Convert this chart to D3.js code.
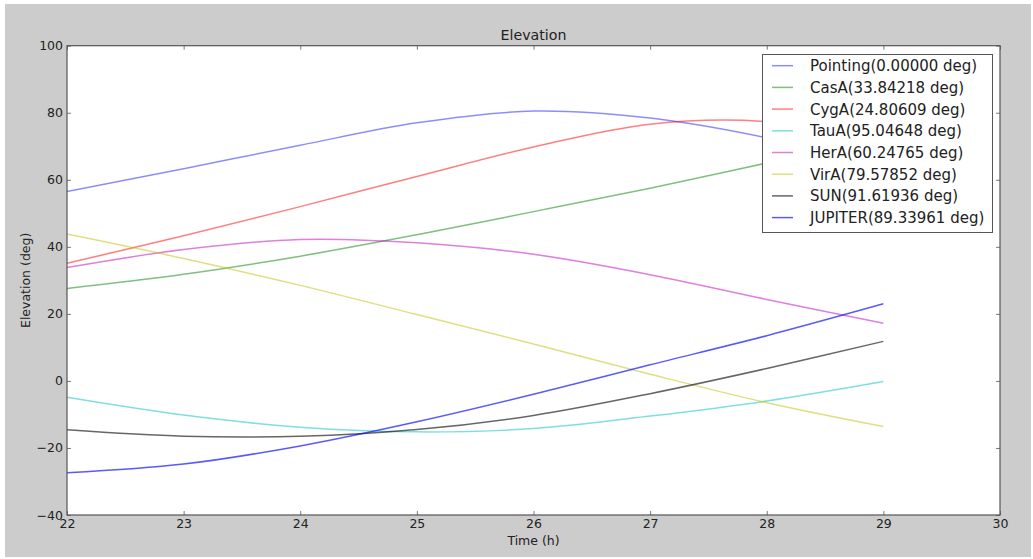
<!DOCTYPE html>
<html>
<head>
<meta charset="utf-8">
<script src="https://cdn.jsdelivr.net/npm/d3@7"></script>
<style>
  html, body { margin: 0; padding: 0; background: #ffffff; }
  svg { display: block; }
  text { font-family: "DejaVu Sans", sans-serif; fill: #222; }
</style>
</head>
<body>
<svg id="chart" width="1033" height="559"></svg>
<script>
// ---- data ----
const hours = [22, 23, 24, 25, 26, 27, 28, 29];
const seriesNames = ["Pointing(0.00000 deg)", "CasA(33.84218 deg)", "CygA(24.80609 deg)", "TauA(95.04648 deg)",
                     "HerA(60.24765 deg)", "VirA(79.57852 deg)", "SUN(91.61936 deg)", "JUPITER(89.33961 deg)"];
const pointing = [56.5, 63.3, 70.3, 77.0, 80.5, 78.4, 72.5, 64.0];
const casA     = [27.6, 31.8, 37.2, 43.6, 50.5, 57.5, 65.0, 72.5];
const cygA     = [35.1, 43.3, 52.0, 61.0, 69.8, 76.6, 77.3, 71.0];
const tauA     = [-4.9, -10.2, -13.8, -15.2, -14.2, -10.5, -6.0, -0.2];
const herA     = [33.8, 39.2, 42.2, 41.2, 37.8, 31.7, 24.3, 17.2];
const virA     = [43.8, 36.5, 28.5, 19.8, 11.0, 2.0, -6.5, -13.6];
const sun      = [-14.6, -16.5, -16.5, -14.5, -10.3, -3.8, 3.7, 11.8];
const jupiter  = [-27.4, -24.8, -19.4, -12.2, -4.0, 4.8, 13.5, 23.0];
const xTicks = [22, 23, 24, 25, 26, 27, 28, 29, 30];
const yTicks = [-40, -20, 0, 20, 40, 60, 80, 100];

const allSeries = [pointing, casA, cygA, tauA, herA, virA, sun, jupiter];
const colors = ["#0000ff", "#008000", "#ff0000", "#00bfbf", "#bf00bf", "#bfbf00", "#000000", "#0000ff"];
const opac   = [0.45, 0.5, 0.5, 0.5, 0.5, 0.5, 0.6, 0.65];

// ---- layout ----
const svg = d3.select("#chart");
svg.append("rect").attr("x", 5).attr("y", 4).attr("width", 1026).attr("height", 553).attr("fill", "#cccccc");

const L = 67, R = 1000, T = 45.7, B = 515;
const x = d3.scaleLinear().domain([22, 30]).range([L, R]);
const y = d3.scaleLinear().domain([-40, 100]).range([B, T]);

svg.append("rect").attr("x", L).attr("y", T).attr("width", R - L).attr("height", B - T).attr("fill", "#ffffff");

const clipId = "plotclip";
svg.append("clipPath").attr("id", clipId).append("rect")
  .attr("x", L).attr("y", T).attr("width", R - L).attr("height", B - T);

const line = d3.line().x((d, i) => x(hours[i])).y(d => y(d)).curve(d3.curveCatmullRom.alpha(0.5));

const g = svg.append("g").attr("clip-path", `url(#${clipId})`);
allSeries.forEach((s, k) => {
  g.append("path").datum(s).attr("d", line)
    .attr("fill", "none").attr("stroke", colors[k]).attr("stroke-opacity", opac[k]).attr("stroke-width", 1.5);
});

// axes (ticks inward, on all sides)
const fmt = d => d < 0 ? "\u2212" + Math.abs(d) : String(d);
const axB = svg.append("g").attr("transform", `translate(0,${B})`)
  .call(d3.axisBottom(x).tickValues(xTicks).tickSizeInner(-4).tickSizeOuter(0).tickPadding(4).tickFormat(fmt));
const axT = svg.append("g").attr("transform", `translate(0,${T})`)
  .call(d3.axisTop(x).tickValues(xTicks).tickSizeInner(-4).tickSizeOuter(0).tickFormat(""));
const axLft = svg.append("g").attr("transform", `translate(${L},0)`)
  .call(d3.axisLeft(y).tickValues(yTicks).tickSizeInner(-4).tickSizeOuter(0).tickPadding(4).tickFormat(fmt));
const axRt = svg.append("g").attr("transform", `translate(${R},0)`)
  .call(d3.axisRight(y).tickValues(yTicks).tickSizeInner(-4).tickSizeOuter(0).tickFormat(""));
[axB, axT, axLft, axRt].forEach(a => {
  a.select(".domain").remove();
  a.selectAll(".tick line").attr("stroke", "#555").attr("stroke-width", 0.8);
  a.selectAll(".tick text").attr("font-family", "DejaVu Sans, sans-serif").attr("font-size", 12.5).attr("fill", "#222");
});

// frame
svg.append("rect").attr("x", L).attr("y", T).attr("width", R - L).attr("height", B - T)
  .attr("fill", "none").attr("stroke", "#555").attr("stroke-width", 1.2);

// titles
svg.append("text").attr("x", (L + R) / 2).attr("y", 40).attr("text-anchor", "middle")
  .attr("font-size", 14.2).text("Elevation");
svg.append("text").attr("x", (L + R) / 2).attr("y", 545).attr("text-anchor", "middle")
  .attr("font-size", 12.5).text("Time (h)");
svg.append("text").attr("transform", `translate(30,${(T + B) / 2}) rotate(-90)`).attr("text-anchor", "middle")
  .attr("font-size", 12.5).text("Elevation (deg)");

// legend
const lgX = 762.5, lgY = 54.5, lgW = 230, lgH = 178;
const lg = svg.append("g");
lg.append("rect").attr("x", lgX).attr("y", lgY).attr("width", lgW).attr("height", lgH)
  .attr("fill", "#ffffff").attr("stroke", "#555").attr("stroke-width", 1);
seriesNames.forEach((name, k) => {
  const yy = 65.7 + k * 21.7;
  lg.append("line").attr("x1", 772).attr("x2", 793).attr("y1", yy).attr("y2", yy)
    .attr("stroke", colors[k]).attr("stroke-opacity", opac[k]).attr("stroke-width", 1.5);
  lg.append("text").attr("x", 810).attr("y", yy).attr("dy", "0.36em").attr("font-size", 15).text(name);
});
</script>
</body>
</html>
